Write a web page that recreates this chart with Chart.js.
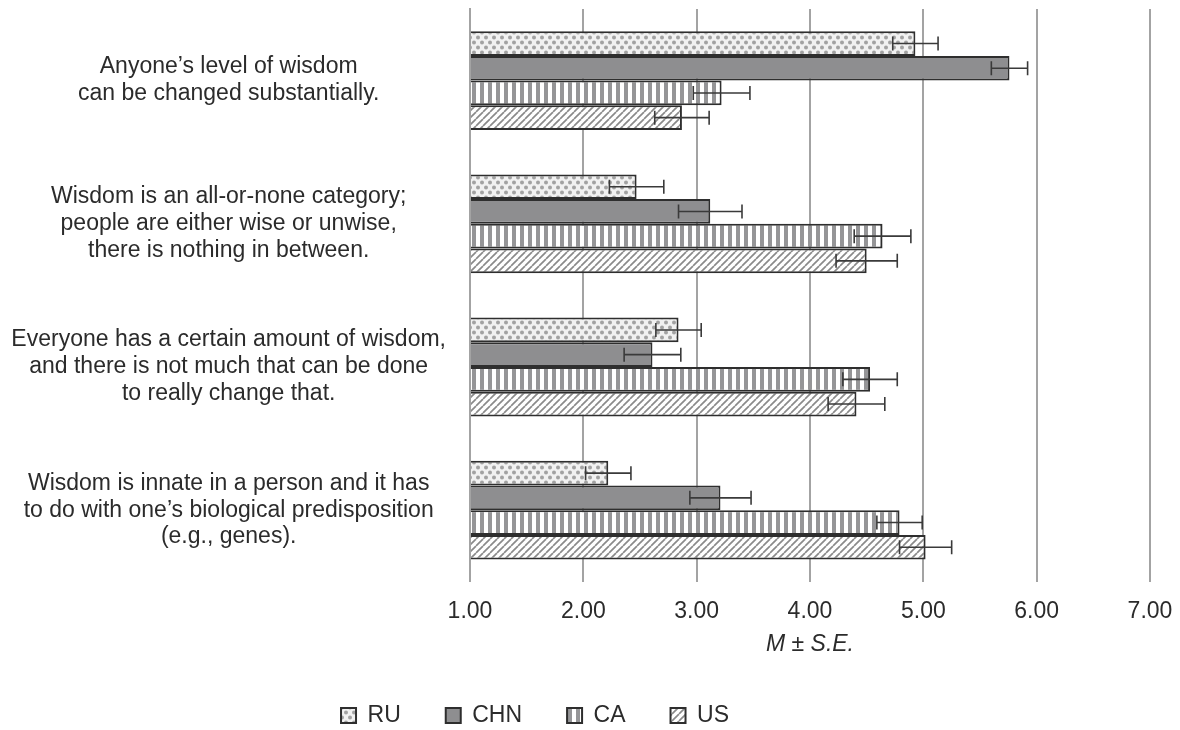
<!DOCTYPE html>
<html>
<head>
<meta charset="utf-8">
<script src="https://cdn.jsdelivr.net/npm/chart.js@4/dist/chart.umd.min.js"></script>
<style>
  html, body { margin: 0; padding: 0; background: #fff; }
  #wrap { width: 1180px; height: 730px; }
</style>
</head>
<body>
<div id="wrap"><canvas id="wisdomChart"></canvas></div>
<script>
// statements (one label per category, split in lines)
const statements = [
    ['Anyone\u2019s level of wisdom', 'can be changed substantially.'],
    ['Wisdom is an all-or-none category;', 'people are either wise or unwise,', 'there is nothing in between.'],
    ['Everyone has a certain amount of wisdom,', 'and there is not much that can be done', 'to really change that.'],
    ['Wisdom is innate in a person and it has', 'to do with one\u2019s biological predisposition', '(e.g., genes).']
];

const countries = ['RU', 'CHN', 'CA', 'US'];

// means
const ruMean  = [4.93, 2.47, 2.84, 2.22];
const chnMean = [5.76, 3.12, 2.61, 3.21];
const caMean  = [3.22, 4.64, 4.53, 4.79];
const usMean  = [2.87, 4.50, 4.41, 5.02];

// standard errors
const ruSE  = [0.20, 0.24, 0.20, 0.20];
const chnSE = [0.16, 0.28, 0.25, 0.27];
const caSE  = [0.25, 0.25, 0.24, 0.20];
const usSE  = [0.24, 0.27, 0.25, 0.23];

const axisTicks = [1, 2, 3, 4, 5, 6, 7];

// --- fill patterns ---
function makePattern(w, h, paint) {
    const c = document.createElement('canvas');
    c.width = w; c.height = h;
    const g = c.getContext('2d');
    paint(g, w, h);
    return g.createPattern(c, 'repeat');
}

const dotPattern = makePattern(8, 10, function (g, w, h) {
    g.fillStyle = '#f1f1f1';
    g.fillRect(0, 0, w, h);
    g.fillStyle = '#a2a2a2';
    [[2, 2.5], [6, 7.5]].forEach(function (p) {
        g.beginPath();
        g.arc(p[0], p[1], 2, 0, Math.PI * 2);
        g.fill();
    });
});

const stripePattern = makePattern(8, 8, function (g, w, h) {
    g.fillStyle = '#ffffff';
    g.fillRect(0, 0, w, h);
    g.fillStyle = '#959597';
    g.fillRect(0, 0, 4, h);
});

const diagPattern = makePattern(7, 7, function (g, w, h) {
    g.fillStyle = '#ffffff';
    g.fillRect(0, 0, w, h);
    g.strokeStyle = '#8a8a8a';
    g.lineWidth = 1.7;
    for (let k = -1; k <= 1; k++) {
        g.beginPath();
        g.moveTo(k * w, h);
        g.lineTo(k * w + w, 0);
        g.stroke();
    }
});

// error bars drawn on top of each bar
const errorBars = {
    id: 'errorBars',
    afterDatasetsDraw(chart) {
        const ctx = chart.ctx;
        const xScale = chart.scales.x;
        ctx.save();
        ctx.strokeStyle = '#3a3a3a';
        ctx.lineWidth = 1.6;
        chart.data.datasets.forEach(function (ds, di) {
            const meta = chart.getDatasetMeta(di);
            meta.data.forEach(function (bar, i) {
                const m = ds.data[i];
                const se = ds.se[i];
                const x1 = xScale.getPixelForValue(m - se);
                const x2 = xScale.getPixelForValue(m + se);
                const y = bar.y;
                const cap = 7;
                ctx.beginPath();
                ctx.moveTo(x1, y); ctx.lineTo(x2, y);
                ctx.moveTo(x1, y - cap); ctx.lineTo(x1, y + cap);
                ctx.moveTo(x2, y - cap); ctx.lineTo(x2, y + cap);
                ctx.stroke();
            });
        });
        ctx.restore();
    }
};

// nudge the legend left like in the original figure
const legendShift = {
    id: 'legendShift',
    afterLayout(chart) {
        const lg = chart.legend;
        if (lg) {
            lg.left -= 44;
            lg.right -= 44;
            lg.top += 1;
            lg.bottom += 1;
        }
    }
};

const fontFamily = '"Liberation Sans", Arial, sans-serif';
Chart.defaults.font.family = fontFamily;
Chart.defaults.color = '#2b2b2b';

const barBorder = '#2e2e2e';

const ctx = document.getElementById('wisdomChart').getContext('2d');
const wisdomChart = new Chart(ctx, {
    type: 'bar',
    data: {
        labels: statements,
        datasets: [
            { label: countries[0], data: ruMean, se: ruSE, backgroundColor: dotPattern, borderColor: barBorder, borderWidth: 2 },
            { label: countries[1], data: chnMean, se: chnSE, backgroundColor: '#8e8e90', borderColor: barBorder, borderWidth: 2 },
            { label: countries[2], data: caMean, se: caSE, backgroundColor: stripePattern, borderColor: barBorder, borderWidth: 2 },
            { label: countries[3], data: usMean, se: usSE, backgroundColor: diagPattern, borderColor: barBorder, borderWidth: 2 }
        ]
    },
    options: {
        indexAxis: 'y',
        responsive: true,
        maintainAspectRatio: false,
        animation: false,
        layout: { padding: { top: 9, right: 30, bottom: -6, left: 8 } },
        datasets: {
            bar: {
                base: 1,
                categoryPercentage: 0.69,
                barPercentage: 1.0
            }
        },
        scales: {
            x: {
                min: 1,
                max: 7,
                afterBuildTicks: function (scale) {
                    scale.ticks = axisTicks.map(v => ({ value: v }));
                },
                afterFit: function (scale) {
                    scale.paddingLeft = 0;
                    scale.paddingRight = 0;
                    scale.height -= 13;
                },
                grid: { color: '#a3a3a3', lineWidth: 2, drawTicks: false },
                border: { display: false },
                ticks: {
                    padding: 16,
                    font: { size: 23 },
                    callback: function (value) { return Number(value).toFixed(2); }
                },
                title: {
                    display: true,
                    text: 'M \u00B1 S.E.',
                    font: { size: 23, style: 'italic' },
                    padding: { top: 2, bottom: 0 }
                }
            },
            y: {
                afterFit: function (scale) {
                    scale.width = 462;
                    scale.paddingTop = 0;
                    scale.paddingBottom = 0;
                },
                grid: { display: false, drawTicks: false },
                border: { display: true, color: '#a3a3a3', width: 2 },
                ticks: {
                    crossAlign: 'center',
                    padding: 24,
                    font: { size: 23, lineHeight: 1.17 }
                }
            }
        },
        plugins: {
            legend: {
                position: 'bottom',
                labels: {
                    boxWidth: 15,
                    boxHeight: 15,
                    padding: 45,
                    font: { size: 23 }
                }
            },
            tooltip: { enabled: false }
        }
    },
    plugins: [errorBars, legendShift]
});
</script>
</body>
</html>
